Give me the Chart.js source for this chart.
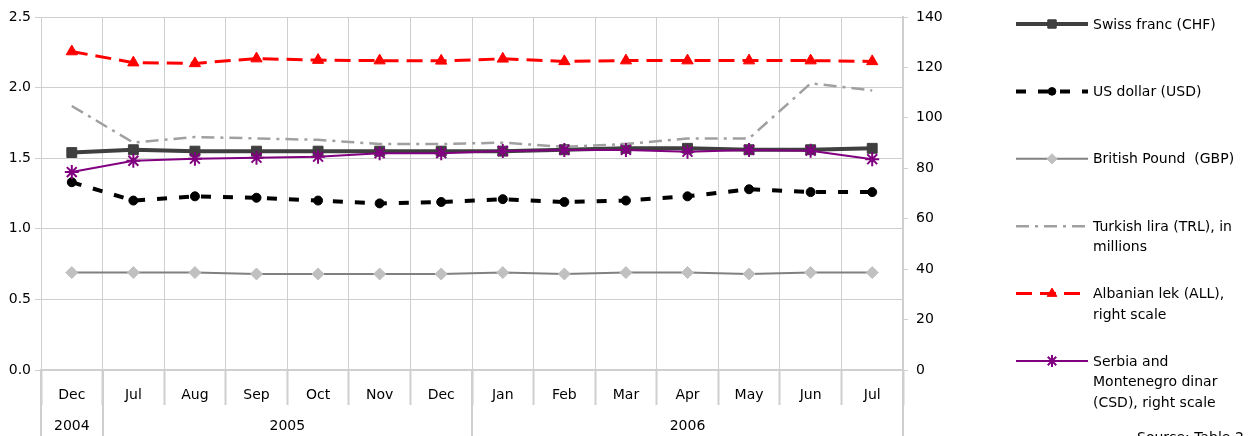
<!DOCTYPE html>
<html>
<head>
<meta charset="utf-8">
<script src="https://cdn.jsdelivr.net/npm/chart.js@4"></script>
<style>
  html, body { margin: 0; padding: 0; background: #fff; }
  canvas { display: block; }
</style>
</head>
<body>
<canvas id="fxChart" width="1254" height="436"></canvas>
<script>
// categories
const months = ["Dec","Jul","Aug","Sep","Oct","Nov","Dec","Jan","Feb","Mar","Apr","May","Jun","Jul"];
const yearLabels = ["2004", "2005", "2006"];
const yearSpans  = [1, 6, 7];   // months per year

// left scale
const chf = [1.54,1.56,1.55,1.55,1.55,1.55,1.55,1.55,1.56,1.57,1.57,1.56,1.56,1.57];
const usd = [1.33,1.20,1.23,1.22,1.20,1.18,1.19,1.21,1.19,1.20,1.23,1.28,1.26,1.26];
const gbp = [0.69,0.69,0.69,0.68,0.68,0.68,0.68,0.69,0.68,0.69,0.69,0.68,0.69,0.69];
const trl = [1.87,1.61,1.65,1.64,1.63,1.60,1.60,1.61,1.58,1.60,1.64,1.64,2.03,1.98];
// right scale
const all = [126.3,121.9,121.6,123.5,122.9,122.7,122.6,123.4,122.4,122.7,122.7,122.7,122.7,122.4];
const csd = [78.5,83.0,83.8,84.2,84.6,86.0,86.0,86.9,87.3,87.3,86.6,87.3,87.0,83.6];

const legendLines = [
  ["Swiss franc (CHF)"],
  ["US dollar (USD)"],
  ["British Pound  (GBP)"],
  ["Turkish lira (TRL), in", "millions"],
  ["Albanian lek (ALL),", "right scale"],
  ["Serbia and", "Montenegro dinar", "(CSD), right scale"]
];
const sourceNote = "Source: Table 2";

const FONT = "DejaVu Sans";
const FSIZE = 14;
const GRID = "#cfcfcf";

// year row under the month labels
const yearRow = {
  id: "yearRow",
  afterDraw(chart) {
    const ctx = chart.ctx;
    const x = chart.scales.x;
    const catW = (x.right - x.left) / months.length;
    const top = chart.chartArea.bottom;
    ctx.save();
    ctx.strokeStyle = GRID;
    ctx.lineWidth = 2;
    ctx.fillStyle = "#000";
    ctx.font = FSIZE + "px " + FONT;
    ctx.textAlign = "center";
    ctx.textBaseline = "middle";
    let start = 0;
    const edges = [0];
    yearLabels.forEach((lab, i) => {
      const end = start + yearSpans[i];
      const x0 = x.left + start * catW, x1 = x.left + end * catW;
      ctx.fillText(lab, (x0 + x1) / 2, top + 56);
      edges.push(end);
      start = end;
    });
    edges.forEach(e => {
      const px = Math.round(x.left + e * catW);
      ctx.beginPath();
      ctx.moveTo(px, top);
      ctx.lineTo(px, chart.height);
      ctx.stroke();
    });
    ctx.restore();
  }
};

// legend drawn on the right
const sideLegend = {
  id: "sideLegend",
  afterDraw(chart) {
    const ctx = chart.ctx;
    const x0 = 1016, x1 = 1088, tx = 1093;
    ctx.save();
    chart.data.datasets.forEach((ds, i) => {
      const y = 24 + i * 67.4;
      ctx.save();
      ctx.strokeStyle = ds.borderColor;
      ctx.lineWidth = ds.borderWidth;
      ctx.lineCap = "butt";
      ctx.setLineDash(ds.borderDash || []);
      ctx.beginPath();
      ctx.moveTo(x0, y);
      ctx.lineTo(x1, y);
      ctx.stroke();
      ctx.restore();
      if (ds.pointRadius > 0) {
        ctx.save();
        ctx.fillStyle = ds.pointBackgroundColor;
        ctx.strokeStyle = ds.pointBorderColor;
        ctx.lineWidth = ds.pointBorderWidth;
        Chart.helpers.drawPoint(ctx, {
          pointStyle: ds.pointStyle, radius: ds.pointRadius * 0.85, rotation: 0, borderWidth: ds.pointBorderWidth
        }, (x0 + x1) / 2, y);
        ctx.restore();
      }
      ctx.fillStyle = "#000";
      ctx.font = FSIZE + "px " + FONT;
      ctx.textAlign = "left";
      ctx.textBaseline = "middle";
      legendLines[i].forEach((t, k) => ctx.fillText(t, tx, y + 1 + k * 20.5));
    });
    ctx.font = FSIZE + "px " + FONT;
    ctx.textBaseline = "top";
    ctx.fillText(sourceNote, 1137, 431);
    ctx.restore();
  }
};

new Chart(document.getElementById("fxChart"), {
  type: "line",
  data: {
    labels: months,
    datasets: [
      { label: "CHF", data: chf, yAxisID: "y", order: 6,
        borderColor: "#3f3f3f", borderWidth: 4,
        pointStyle: "rect", pointRadius: 7, pointBackgroundColor: "#3f3f3f", pointBorderColor: "#3f3f3f", pointBorderWidth: 1 },
      { label: "USD", data: usd, yAxisID: "y", order: 5,
        borderColor: "#000", borderWidth: 4, borderDash: [10, 12],
        pointStyle: "circle", pointRadius: 4.5, pointBackgroundColor: "#000", pointBorderColor: "#000", pointBorderWidth: 1 },
      { label: "GBP", data: gbp, yAxisID: "y", order: 4,
        borderColor: "#808080", borderWidth: 2,
        pointStyle: "rectRot", pointRadius: 6, pointBackgroundColor: "#c0c0c0", pointBorderColor: "#c0c0c0", pointBorderWidth: 1 },
      { label: "TRL", data: trl, yAxisID: "y", order: 3,
        borderColor: "#a0a0a0", borderWidth: 2.5, borderDash: [13, 6, 3, 6],
        pointStyle: "circle", pointRadius: 0, pointBackgroundColor: "#a0a0a0", pointBorderColor: "#a0a0a0", pointBorderWidth: 0 },
      { label: "ALL", data: all, yAxisID: "y1", order: 2,
        borderColor: "#ff0000", borderWidth: 3, borderDash: [16, 8],
        pointStyle: "triangle", pointRadius: 6.5, pointBackgroundColor: "#ff0000", pointBorderColor: "#ff0000", pointBorderWidth: 1 },
      { label: "CSD", data: csd, yAxisID: "y1", order: 1,
        borderColor: "#800080", borderWidth: 2,
        pointStyle: "star", pointRadius: 7, pointBackgroundColor: "#800080", pointBorderColor: "#800080", pointBorderWidth: 2 }
    ]
  },
  options: {
    responsive: false,
    devicePixelRatio: 1,
    animation: false,
    events: [],
    layout: { padding: { top: 17, right: 311, bottom: 0, left: 0 } },
    elements: { line: { tension: 0 } },
    plugins: { legend: { display: false }, tooltip: { enabled: false } },
    scales: {
      x: {
        offset: true,
        grid: { offset: true, color: GRID, lineWidth: 1, tickLength: 35, tickColor: GRID, tickWidth: 2 },
        border: { display: true, color: GRID, width: 2 },
        ticks: { color: "#000", font: { family: FONT, size: FSIZE }, padding: -18, maxRotation: 0, autoSkip: false },
        afterFit(s) { s.height = 66; }
      },
      y: {
        position: "left",
        min: 0, max: 2.5,
        grid: { color: GRID, tickLength: 6, tickColor: GRID },
        border: { display: false },
        ticks: { stepSize: 0.5, color: "#000", font: { family: FONT, size: FSIZE }, padding: 4,
                 callback: v => v.toFixed(1) },
        afterFit(s) { s.width = 41; }
      },
      y1: {
        position: "right",
        min: 0, max: 140,
        grid: { drawOnChartArea: false, tickLength: 5, tickColor: GRID },
        border: { display: true, color: GRID, width: 2 },
        ticks: { stepSize: 20, color: "#000", font: { family: FONT, size: FSIZE }, padding: 8 },
        afterFit(s) { s.width = 40; }
      }
    }
  },
  plugins: [yearRow, sideLegend]
});
</script>
</body>
</html>
